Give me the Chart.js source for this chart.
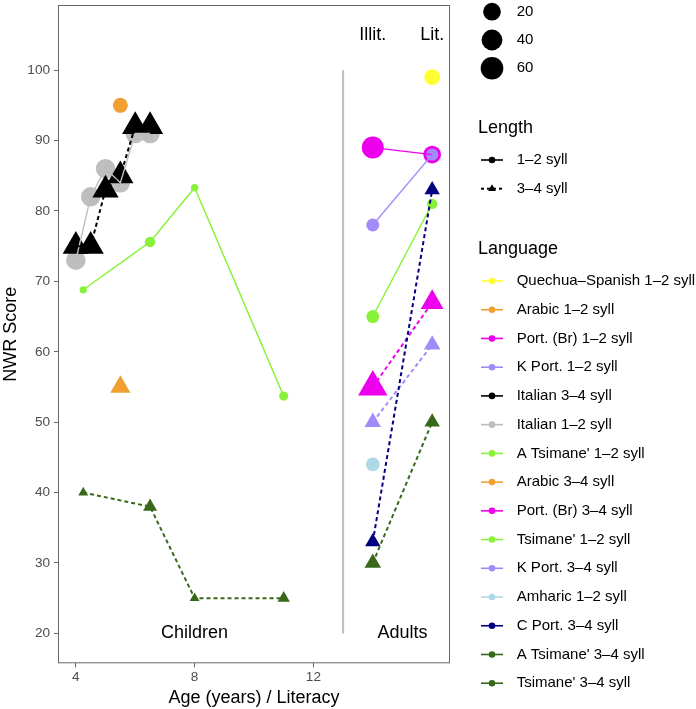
<!DOCTYPE html>
<html>
<head>
<meta charset="utf-8">
<script src="https://cdn.jsdelivr.net/npm/chart.js@4.4.0/dist/chart.umd.min.js"></script>
<style>
  html, body { margin: 0; padding: 0; background: #fff; }
  #wrap { width: 696px; height: 709px; }
</style>
</head>
<body>
<div id="wrap"><canvas id="chart" width="696" height="709"></canvas></div>
<script>
// ---- data ----
// children: x = age in years
const italianAges = [4, 4.5, 5, 5.5, 6, 6.5];
const italian12 = [73, 82, 86, 84, 91, 91];
const italian34 = [75, 75, 83, 85, 92, 92];
const italianN = [30, 30, 30, 30, 30, 30];

const arabicAges = [5.5];
const arabic12 = [95];
const arabic34 = [55];
const arabicN = [11];

const tsimaneAges = [4.25, 6.5, 8, 11];
const tsimane12 = [68.8, 75.6, 83.3, 53.7];
const tsimane34 = [40, 38, 25, 25];
const tsimaneN = [2, 4, 2, 3];

// adults: x = 14 illiterate, 16 literate
const literacyX = [14, 16];
const quechua12 = [null, 99];
const quechua12N = [null, 13];
const portBr12 = [89, 88];
const portBr12N = [52, 20];
const kPort12 = [78, 88];
const kPort12N = [7, 6];
const aTsimane12 = [65, 81];
const aTsimane12N = [7, 4];
const amharic12 = [44, null];
const amharic12N = [8, null];
const portBr34 = [55, 67];
const portBr34N = [50, 17];
const kPort34 = [50, 61];
const kPort34N = [6, 6];
const cPort34 = [33, 83];
const cPort34N = [5, 5];
const aTsimane34 = [30, 50];
const aTsimane34N = [6, 5];

const xTicks = [4, 8, 12];
const yTicks = [20, 30, 40, 50, 60, 70, 80, 90, 100];
const sizeBreaks = [20, 40, 60];
const lengthLabels = ["1\u20132 syll", "3\u20134 syll"];
const languageLabels = [
  "Quechua\u2013Spanish 1\u20132 syll", "Arabic 1\u20132 syll", "Port. (Br) 1\u20132 syll",
  "K Port. 1\u20132 syll", "Italian 3\u20134 syll", "Italian 1\u20132 syll",
  "A Tsimane' 1\u20132 syll", "Arabic 3\u20134 syll", "Port. (Br) 3\u20134 syll",
  "Tsimane' 1\u20132 syll", "K Port. 3\u20134 syll", "Amharic 1\u20132 syll",
  "C Port. 3\u20134 syll", "A Tsimane' 3\u20134 syll", "Tsimane' 3\u20134 syll"
];
const panelText = ["Children", "Adults", "Illit.", "Lit."];
const panelTextX = [8, 15, 14, 16];
const panelTextY = [20, 20, 105, 105];
const dividerX = [13, 13];
const dividerY = [20, 100];

// ---- styles ----
const FONT = "'Liberation Sans', Arial, Helvetica, sans-serif";
const YELLOW = "#FFFF33", ORANGE = "#EFA030", MAGENTA = "#EE00EE", LAVENDER = "#A28BF9";
const GREY = "#BEBEBE", LIME = "#88F23A", LIGHTBLUE = "#ADD8E6", NAVY = "#000080", DKGREEN = "#38691A";
const languageColors = [YELLOW, ORANGE, MAGENTA, LAVENDER, "#000000", GREY, LIME, ORANGE,
  MAGENTA, LIME, LAVENDER, LIGHTBLUE, NAVY, DKGREEN, DKGREEN];

function diam(n) { return 4.2 + 4.5 * Math.log(n); }

// series in drawing order (points drawn in this order, lines on top)
const series = [
  { xs: italianAges, ys: italian12, ns: italianN, color: GREY, long: false },
  { xs: italianAges, ys: italian34, ns: italianN, color: "#000000", long: true },
  { xs: arabicAges, ys: arabic12, ns: arabicN, color: ORANGE, long: false },
  { xs: arabicAges, ys: arabic34, ns: arabicN, color: ORANGE, long: true },
  { xs: tsimaneAges, ys: tsimane12, ns: tsimaneN, color: LIME, long: false },
  { xs: tsimaneAges, ys: tsimane34, ns: tsimaneN, color: DKGREEN, long: true },
  { xs: literacyX, ys: quechua12, ns: quechua12N, color: YELLOW, long: false },
  { xs: literacyX, ys: portBr12, ns: portBr12N, color: MAGENTA, long: false },
  { xs: literacyX, ys: kPort12, ns: kPort12N, color: LAVENDER, long: false },
  { xs: literacyX, ys: aTsimane12, ns: aTsimane12N, color: LIME, long: false },
  { xs: literacyX, ys: amharic12, ns: amharic12N, color: LIGHTBLUE, long: false },
  { xs: literacyX, ys: portBr34, ns: portBr34N, color: MAGENTA, long: true },
  { xs: literacyX, ys: kPort34, ns: kPort34N, color: LAVENDER, long: true },
  { xs: literacyX, ys: cPort34, ns: cPort34N, color: NAVY, long: true },
  { xs: literacyX, ys: aTsimane34, ns: aTsimane34N, color: DKGREEN, long: true }
];

function pts(s) {
  const out = [];
  s.xs.forEach((x, i) => { if (s.ys[i] != null) out.push({ x: x, y: s.ys[i], n: s.ns[i] }); });
  return out;
}

const drawList = [];
drawList.push({
  data: dividerX.map((x, i) => ({ x: x, y: dividerY[i] })),
  showLine: true, borderColor: GREY, borderWidth: 2, pointRadius: 0
});
series.forEach(s => {
  const d = pts(s);
  drawList.push({
    data: d, showLine: false,
    pointStyle: s.long ? "triangle" : "circle",
    pointRadius: d.map(p => s.long ? 1.555 * diam(p.n) / 2 : diam(p.n) / 2),
    pointBackgroundColor: s.color, pointBorderWidth: 0, pointHoverRadius: 0
  });
});
series.forEach(s => {
  const d = pts(s);
  if (d.length < 2) return;
  drawList.push({
    data: d, showLine: true, pointRadius: 0,
    borderColor: s.color, borderWidth: s.long ? 2 : 1.4,
    borderDash: s.long ? [4, 3] : []
  });
});
// first in list drawn first (bottom)
drawList.forEach((ds, i) => { ds.order = drawList.length - i; });

const extras = {
  id: "extras",
  afterDatasetsDraw(chart) {
    const ctx = chart.ctx, xs = chart.scales.x, ys = chart.scales.y, a = chart.chartArea;
    ctx.save();
    ctx.fillStyle = "#000";
    ctx.font = "18px " + FONT;
    ctx.textAlign = "center";
    ctx.textBaseline = "middle";
    panelText.forEach((t, i) => {
      ctx.fillText(t, xs.getPixelForValue(panelTextX[i]), ys.getPixelForValue(panelTextY[i]));
    });
    ctx.strokeStyle = "#666";
    ctx.lineWidth = 1;
    ctx.strokeRect(a.left + 0.5, a.top + 0.5, a.right - a.left - 1, a.bottom - a.top - 1);
    ctx.restore();
  },
  afterDraw(chart) {
    const ctx = chart.ctx;
    const keyX = 492, textX = 516.7, titleX = 478;
    ctx.save();
    ctx.textAlign = "left";
    ctx.textBaseline = "middle";
    // size legend
    sizeBreaks.forEach((b, i) => {
      const y = 11.7 + i * 28.3;
      ctx.fillStyle = "#000";
      ctx.beginPath();
      ctx.arc(keyX, y, diam(b) / 2, 0, Math.PI * 2);
      ctx.fill();
      ctx.font = "15px " + FONT;
      ctx.fillText(String(b), textX, y);
    });
    // length legend
    ctx.font = "18px " + FONT;
    ctx.fillText("Length", titleX, 128);
    lengthLabels.forEach((t, i) => {
      const y = 160 + i * 28.7;
      ctx.strokeStyle = "#000";
      ctx.lineWidth = i ? 2 : 1.6;
      ctx.setLineDash(i ? [3, 3] : []);
      ctx.beginPath(); ctx.moveTo(481, y); ctx.lineTo(503, y); ctx.stroke();
      ctx.setLineDash([]);
      ctx.fillStyle = "#000";
      ctx.beginPath();
      if (i) {
        const r = 4.5;
        ctx.moveTo(keyX, y - r);
        ctx.lineTo(keyX + r * 0.866, y + r / 2);
        ctx.lineTo(keyX - r * 0.866, y + r / 2);
        ctx.closePath();
      } else {
        ctx.arc(keyX, y, 3.3, 0, Math.PI * 2);
      }
      ctx.fill();
      ctx.font = "15px " + FONT;
      ctx.fillText(t, textX, y);
    });
    // language legend
    ctx.font = "18px " + FONT;
    ctx.fillText("Language", titleX, 249);
    languageLabels.forEach((t, i) => {
      const y = 281 + i * 28.73;
      const c = languageColors[i];
      ctx.strokeStyle = c;
      ctx.lineWidth = 1.6;
      ctx.beginPath(); ctx.moveTo(481, y); ctx.lineTo(503, y); ctx.stroke();
      ctx.fillStyle = c;
      ctx.beginPath(); ctx.arc(keyX, y, 3.3, 0, Math.PI * 2); ctx.fill();
      ctx.fillStyle = "#000";
      ctx.font = "15px " + FONT;
      ctx.fillText(t, textX, y);
    });
    ctx.restore();
  }
};

const tickFont = { family: FONT, size: 13.6 };
const noPad = () => ({ left: 0, top: 0, right: 0, bottom: 0 });

new Chart(document.getElementById("chart"), {
  type: "scatter",
  data: { datasets: drawList },
  options: {
    responsive: false,
    animation: false,
    devicePixelRatio: 1,
    layout: { autoPadding: false, padding: { top: 5, right: 246, bottom: 0, left: 0 } },
    plugins: { legend: { display: false }, tooltip: { enabled: false } },
    elements: { line: { tension: 0 } },
    scales: {
      x: {
        type: "linear", min: 3.4, max: 16.6,
        afterBuildTicks: s => { s.ticks = xTicks.map(v => ({ value: v })); },
        afterFit: s => { s.height = 45.7; s.paddingLeft = 0; s.paddingRight = 0; s.getPadding = noPad; },
        grid: { display: true, drawOnChartArea: false, drawTicks: true, tickLength: 4, color: "#666" },
        border: { display: false },
        ticks: { color: "#4D4D4D", font: tickFont, padding: 2, maxRotation: 0 },
        title: { display: true, text: "Age (years) / Literacy", color: "#000",
                 font: { family: FONT, size: 18 }, padding: { top: 0, bottom: 0 } }
      },
      y: {
        type: "linear", min: 15.75, max: 109.25,
        afterBuildTicks: s => { s.ticks = yTicks.map(v => ({ value: v })); },
        afterFit: s => { s.width = 58; s.paddingTop = 0; s.paddingBottom = 0; s.getPadding = noPad; },
        grid: { display: true, drawOnChartArea: false, drawTicks: true, tickLength: 4, color: "#666" },
        border: { display: false },
        ticks: { color: "#4D4D4D", font: tickFont, padding: 4 },
        title: { display: true, text: "NWR Score", color: "#000",
                 font: { family: FONT, size: 18 }, padding: { top: 0, bottom: 0 } }
      }
    }
  },
  plugins: [extras]
});
</script>
</body>
</html>
